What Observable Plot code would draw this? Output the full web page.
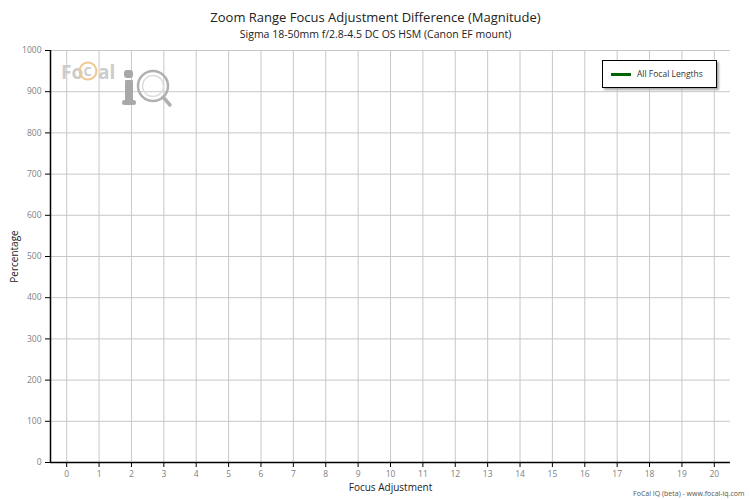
<!DOCTYPE html>
<html>
<head>
<meta charset="utf-8">
<script src="https://cdn.jsdelivr.net/npm/d3@7"></script>
<script src="https://cdn.jsdelivr.net/npm/@observablehq/plot@0.6"></script>
<style>
  body { margin: 0; background: #fff; font-family: "Open Sans", sans-serif; }
  #wrap { position: relative; width: 750px; height: 500px; }
  #legend { position: absolute; left: 602px; top: 60px; width: 113px; height: 26px;
    border: 1px solid #000; background: #fff; box-shadow: 2px 2px 2px #aaa;
    font: 8.5px "Open Sans", sans-serif; color: #333; }
  #legend .sw { position: absolute; left: 8px; top: 12px; width: 20px; height: 3px; background: #006400; }
  #legend .lb { position: absolute; left: 34px; top: 7px; }
  #logo { position: absolute; left: 55px; top: 55px; }
</style>
</head>
<body>
<div id="wrap">
  <div id="chart"></div>
  <svg id="logo" width="125" height="60" viewBox="0 0 125 60">
    <text x="6" y="24" font-family="Open Sans, sans-serif" font-size="19" font-weight="bold" fill="#cccccc">Fo</text>
    <circle cx="33" cy="16" r="8.5" fill="none" stroke="#f0c890" stroke-width="2"/>
    <text x="28.5" y="21" font-family="Open Sans, sans-serif" font-size="13" font-weight="bold" fill="#cccccc">C</text>
    <text x="43" y="24" font-family="Open Sans, sans-serif" font-size="19" font-weight="bold" fill="#cccccc">al</text>
    <rect x="69" y="15" width="9" height="8" rx="3" fill="#a8a8a8"/>
    <rect x="70" y="25" width="8" height="23" rx="1" fill="#a8a8a8"/>
    <rect x="67" y="45" width="14" height="5" rx="2.5" fill="#a8a8a8"/>
    <circle cx="98" cy="31" r="15" fill="none" stroke="#b0b0b0" stroke-width="2.5"/>
    <circle cx="98" cy="31" r="10.5" fill="none" stroke="#dddddd" stroke-width="1.5"/>
    <line x1="108" y1="42" x2="115" y2="50" stroke="#b0b0b0" stroke-width="3.5" stroke-linecap="round"/>
  </svg>
  <div id="legend"><div class="sw"></div><div class="lb">All Focal Lengths</div></div>
</div>
<script>
const title = "Zoom Range Focus Adjustment Difference (Magnitude)";
const subtitle = "Sigma 18-50mm f/2.8-4.5 DC OS HSM (Canon EF mount)";
const xLabel = "Focus Adjustment";
const yLabel = "Percentage";
const footer = "FoCal IQ (beta) - www.focal-iq.com";
const seriesName = "All Focal Lengths";
const xTicks = [0,1,2,3,4,5,6,7,8,9,10,11,12,13,14,15,16,17,18,19,20];
const yTicks = [0,100,200,300,400,500,600,700,800,900,1000];
// No data points are visible in the reference for this series
const seriesX = [];
const seriesY = [];

const data = seriesX.map((x, i) => ({x, y: seriesY[i]}));

const chart = Plot.plot({
  width: 750,
  height: 500,
  marginLeft: 50,
  marginRight: 20,
  marginTop: 50,
  marginBottom: 38,
  style: { fontFamily: "Open Sans, sans-serif", background: "#fff" },
  x: { domain: [-0.5, 20.5] },
  y: { domain: [0, 1000] },
  marks: [
    Plot.gridX(xTicks, { stroke: "#c8c8c8", strokeOpacity: 1 }),
    Plot.gridY(yTicks, { stroke: "#c8c8c8", strokeOpacity: 1 }),
    Plot.axisX(xTicks, { tickSize: 5, tickPadding: 3, fontSize: 8.5, fill: "#808080", stroke: "#000", label: null, tickFormat: d => String(d) }),
    Plot.axisY(yTicks, { tickSize: 5, tickPadding: 4, fontSize: 8.5, fill: "#808080", stroke: "#000", label: null, tickFormat: d => String(d) }),
    Plot.ruleX([-0.5], { stroke: "#000", strokeWidth: 1.5 }),
    Plot.ruleY([0], { stroke: "#000", strokeWidth: 1.5 }),
    Plot.line(data, { x: "x", y: "y", stroke: "#006400", strokeWidth: 3 }),
    Plot.text([title], { text: d => d, frameAnchor: "top", dx: -15, dy: -38, fontSize: 13, fill: "#222" }),
    Plot.text([subtitle], { text: d => d, frameAnchor: "top", dx: -15, dy: -20, fontSize: 10.5, fill: "#222" }),
    Plot.text([xLabel], { text: d => d, frameAnchor: "bottom", dy: 28, fontSize: 10, fill: "#222" }),
    Plot.text([yLabel], { text: d => d, frameAnchor: "left", dx: -36, rotate: -90, textAnchor: "middle", fontSize: 10, fill: "#222" }),
    Plot.text([footer], { text: d => d, frameAnchor: "bottom-right", dx: 14, dy: 33, textAnchor: "end", fontSize: 7, fill: "#555" })
  ]
});
document.getElementById("chart").appendChild(chart);
</script>
</body>
</html>
